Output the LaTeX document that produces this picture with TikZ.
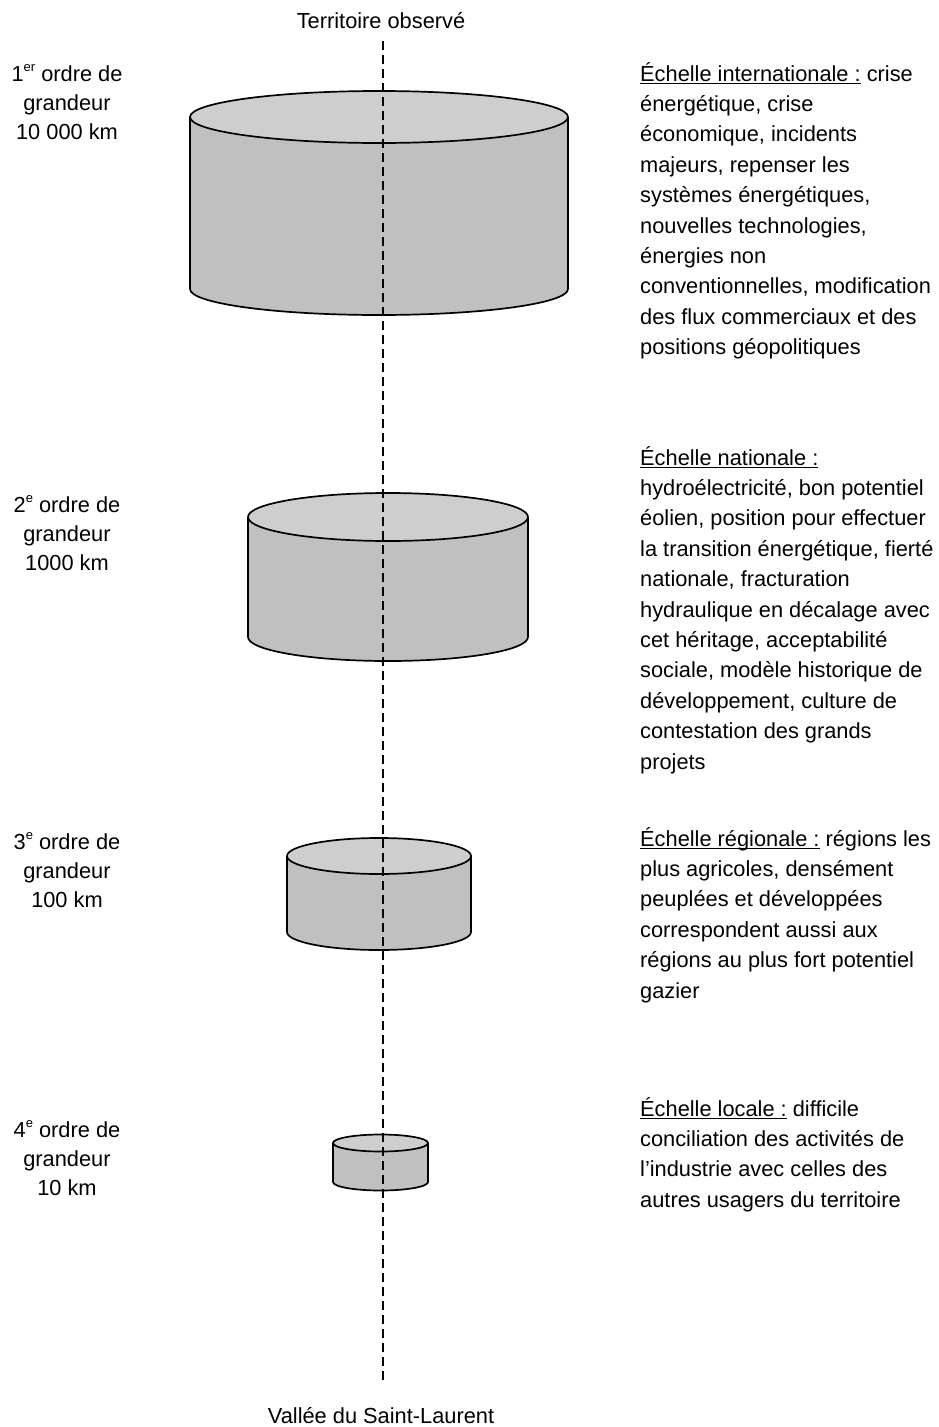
\documentclass[tikz,border=0pt]{standalone}
\usepackage{fontspec}
\setmainfont{Liberation Sans}
\definecolor{topgray}{RGB}{206,206,206}
\definecolor{sidegray}{RGB}{192,192,192}
% small raised ordinal suffix
\newcommand\ordsuf[1]{\raisebox{0.42em}{\fontsize{13}{13}\selectfont #1}}
% thicker underline for the scale headings
\newcommand\heading[1]{\leavevmode\setbox0\hbox{#1}\rlap{\rule[-3.2pt]{\wd0}{1.6pt}}\box0\relax}
% cylinder: centre x, x radius, top y, bottom y, y radius
\newcommand\drumshape[5]{%
  \fill[sidegray] (#1-#2,#3) -- (#1-#2,#4)
    arc[start angle=180,end angle=360,x radius=#2pt,y radius=#5pt]
    -- (#1+#2,#3) -- cycle;
  \fill[topgray] (#1,#3) ellipse[x radius=#2pt,y radius=#5pt];
  \draw[drumline] (#1-#2,#3) -- (#1-#2,#4)
    arc[start angle=180,end angle=360,x radius=#2pt,y radius=#5pt]
    -- (#1+#2,#3);
  \draw[drumline] (#1,#3) ellipse[x radius=#2pt,y radius=#5pt];
}
\begin{document}
\begin{tikzpicture}[x=1pt,y=-1pt,
  drumline/.style={line width=1.7pt,black},
  axisline/.style={line width=2pt,black,dash pattern=on 9pt off 5pt},
  endlabel/.style={inner sep=0pt,anchor=base,font=\fontsize{21.8}{29.3}\selectfont},
  orderlabel/.style={inner sep=0pt,anchor=base,font=\fontsize{21.8}{29.3}\selectfont},
  scaletext/.style={inner sep=0pt,anchor=base west,font=\fontsize{21.8}{30.4}\selectfont}]
\useasboundingbox (0,0) rectangle (938,1427);
\fill[white] (0,0) rectangle (938,1427);

% the four nested scales
\drumshape{379}{189}{117}{289}{26}
\drumshape{388}{140}{517}{637}{24}
\drumshape{379}{92}{856}{932}{18}
\drumshape{380.5}{47.5}{1143}{1182}{8.5}

% axis labels
\node[endlabel] (haut) at (381,28) {Territoire observé};
\node[endlabel] (bas) at (381,1423) {Vallée du Saint-Laurent};
\coordinate (axtop) at (383,41);
\coordinate (axbot) at (383,1380);
\draw[axisline] (axtop) -- (axbot);

% orders of magnitude
\node[orderlabel] (o1) at (67,81) {\parbox[t]{150pt}{\centering
  1\ordsuf{er} ordre de\\grandeur\\10 000 km}};
\node[orderlabel] (o2) at (67,512) {\parbox[t]{150pt}{\centering
  2\ordsuf{e} ordre de\\grandeur\\1000 km}};
\node[orderlabel] (o3) at (67,849) {\parbox[t]{150pt}{\centering
  3\ordsuf{e} ordre de\\grandeur\\100 km}};
\node[orderlabel] (o4) at (67,1137) {\parbox[t]{150pt}{\centering
  4\ordsuf{e} ordre de\\grandeur\\10 km}};

% descriptions of each scale
\node[scaletext] (s1) at (640,81) {\parbox[t]{330pt}{\raggedright
  \heading{Échelle internationale :} crise\\
  énergétique, crise\\
  économique, incidents\\
  majeurs, repenser les\\
  systèmes énergétiques,\\
  nouvelles technologies,\\
  énergies non\\
  conventionnelles, modification\\
  des flux commerciaux et des\\
  positions géopolitiques}};
\node[scaletext] (s2) at (640,465) {\parbox[t]{330pt}{\raggedright
  \heading{Échelle nationale :}\\
  hydroélectricité, bon potentiel\\
  éolien, position pour effectuer\\
  la transition énergétique, fierté\\
  nationale, fracturation\\
  hydraulique en décalage avec\\
  cet héritage, acceptabilité\\
  sociale, modèle historique de\\
  développement, culture de\\
  contestation des grands\\
  projets}};
\node[scaletext] (s3) at (640,846) {\parbox[t]{330pt}{\raggedright
  \heading{Échelle régionale :} régions les\\
  plus agricoles, densément\\
  peuplées et développées\\
  correspondent aussi aux\\
  régions au plus fort potentiel\\
  gazier}};
\node[scaletext] (s4) at (640,1116) {\parbox[t]{330pt}{\raggedright
  \heading{Échelle locale :} difficile\\
  conciliation des activités de\\
  l'industrie avec celles des\\
  autres usagers du territoire}};
\end{tikzpicture}
\end{document}
